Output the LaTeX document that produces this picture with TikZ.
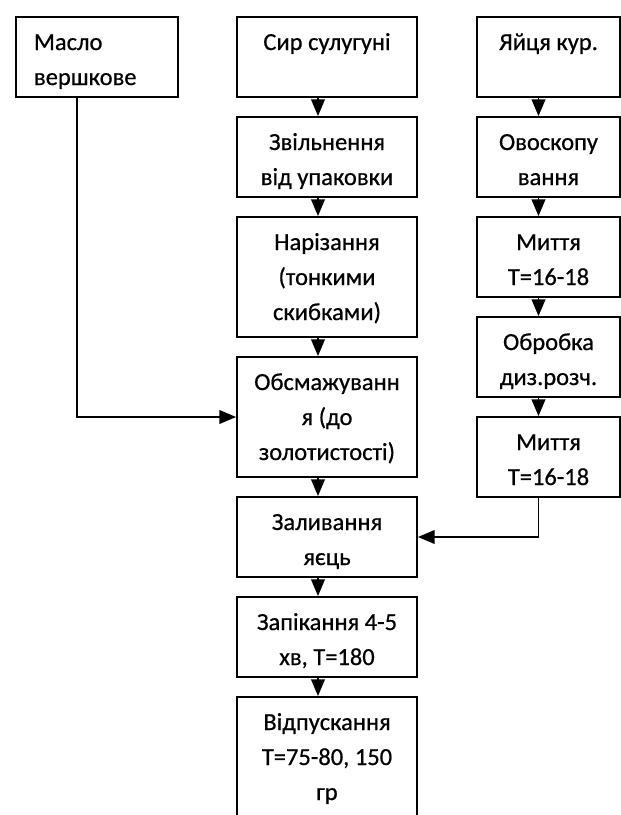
\documentclass[tikz,border=0pt]{standalone}
\usepackage{fontspec}
\setmainfont{Carlito}
\newfontfamily\stagefont{Carlito}[FakeBold=0.6]
\usetikzlibrary{arrows}

\begin{document}
\begin{tikzpicture}[x=0.5pt,y=-0.5pt,>=triangle 45]
  \tikzstyle{every node} = [draw=black, line width=1pt, inner sep=0pt, anchor=north west, align=flush center, text height=16.5pt, text depth=23.5pt, font=\stagefont\fontsize{12.25pt}{17.5pt}\selectfont];
  \tikzstyle{mid} = [text width=90pt];
  \tikzstyle{side} = [text width=71.5pt];
  \tikzstyle{tall} = [text depth=43.5pt];
  \useasboundingbox (0,0) rectangle (621,815);
  % left column
  \node[align=flush left, text width=63pt, inner xsep=9pt] (maslo) at (15,16) {Масло\\вершкове};
  % middle column
  \node[mid] (sir) at (236,16) {Сир сулугуні};
  \node[mid] (zvilnennia) at (236,116) {Звільнення\\від упаковки};
  \node[mid,tall] (narizannia) at (236,216) {Нарізання\\(тонкими\\скибками)};
  \node[mid,tall] (obsmazh) at (236,356) {Обсмажуванн\\я (до\\золотистості)};
  \node[mid] (zalyvannia) at (236,496) {Заливання\\яєць};
  \node[mid] (zapikannia) at (236,596) {Запікання 4-5\\хв, T=180};
  \node[mid,tall,text depth=45pt] (vidpusk) at (236,696) {Відпускання\\T=75-80, 150\\гр};
  % right column
  \node[side] (yaitsia) at (476,16) {Яйця кур.};
  \node[side] (ovoskop) at (476,116) {Овоскопу\\вання};
  \node[side] (myttia) at (476,216) {Миття\\T=16-18};
  \node[side] (obrobka) at (476,316) {Обробка\\диз.розч.};
  \node[side] (myttiadva) at (476,416) {Миття\\T=16-18};
  % arrows
  \draw[->,line width=0.9pt] ([xshift=-4.5pt]sir.south) -- ([xshift=-4.5pt]zvilnennia.north);
  \draw[->,line width=0.9pt] ([xshift=-4.5pt]zvilnennia.south) -- ([xshift=-4.5pt]narizannia.north);
  \draw[->,line width=0.9pt] ([xshift=-4.5pt]narizannia.south) -- ([xshift=-4.5pt]obsmazh.north);
  \draw[->,line width=0.9pt] ([xshift=-4.5pt]obsmazh.south) -- ([xshift=-4.5pt]zalyvannia.north);
  \draw[->,line width=0.9pt] ([xshift=-4.5pt]zalyvannia.south) -- ([xshift=-4.5pt]zapikannia.north);
  \draw[->,line width=0.9pt] ([xshift=-4.5pt]zapikannia.south) -- ([xshift=-4.5pt]vidpusk.north);
  \draw[->,line width=0.9pt] ([xshift=-5pt]yaitsia.south) -- ([xshift=-5pt]ovoskop.north);
  \draw[->,line width=0.9pt] ([xshift=-5pt]ovoskop.south) -- ([xshift=-5pt]myttia.north);
  \draw[->,line width=0.9pt] ([xshift=-5pt]myttia.south) -- ([xshift=-5pt]obrobka.north);
  \draw[->,line width=0.9pt] ([xshift=-5pt]obrobka.south) -- ([xshift=-5pt]myttiadva.north);
  \draw[->,line width=0.9pt] ([xshift=-10pt]maslo.south) |- (obsmazh.west);
  \draw[->,line width=0.9pt] ([xshift=-5pt]myttiadva.south) |- (zalyvannia.east);
\end{tikzpicture}
\end{document}
